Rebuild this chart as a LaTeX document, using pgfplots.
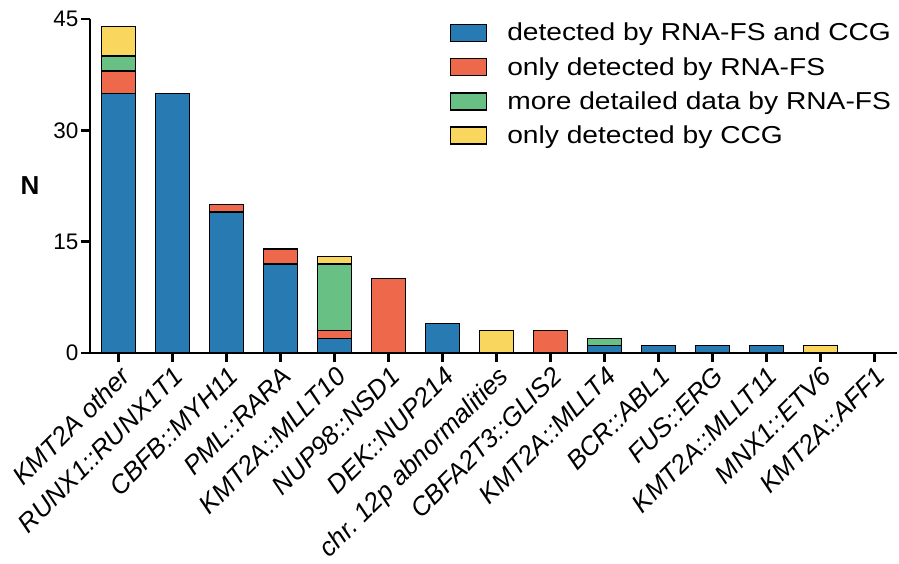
\documentclass[border=0pt]{standalone}
\usepackage{fontspec}
\setmainfont{Liberation Sans}
\newfontfamily\widesans{Liberation Sans}[FakeStretch=1.15]
\usepackage{pgfplots}
\pgfplotsset{compat=1.18}
\definecolor{cblue}{RGB}{40,122,178}
\definecolor{cred}{RGB}{238,104,76}
\definecolor{cgreen}{RGB}{104,192,132}
\definecolor{cyellow}{RGB}{249,214,94}
\begin{document}
\begin{tikzpicture}
\begin{axis}[
  scale only axis,
  width=807pt, height=334pt,
  ybar stacked, bar width=34pt,
  xmin=-0.53, xmax=14.42, ymin=0, ymax=45,
  axis x line=bottom, axis y line=left,
  axis line style={line width=2.4pt, -},
  tick style={line width=2.4pt, black},
  major tick length=9pt,
  tick align=outside,
  ytick={0,15,30,45},
  xtick={0,...,14},
  xticklabels={KMT2A other, RUNX1::RUNX1T1, CBFB::MYH11, PML::RARA, KMT2A::MLLT10, NUP98::NSD1, DEK::NUP214, chr.\ 12p abnormalities, CBFA2T3::GLIS2, KMT2A::MLLT4, BCR::ABL1, FUS::ERG, KMT2A::MLLT11, MNX1::ETV6, KMT2A::AFF1},
  x tick label style={rotate=45, anchor=north east, font=\fontsize{26}{26}\selectfont\itshape, inner sep=2pt},
  y tick label style={font=\fontsize{22.5}{22.5}\selectfont, inner sep=2.5pt},
  /pgf/number format/assume math mode=true,
  ylabel={\textbf{N}},
  every axis y label/.style={at={(axis description cs:0,0.5)}, anchor=center, xshift=-60pt, font=\fontsize{26}{26}\selectfont},
  legend image code/.code={\draw[#1, line width=1.4pt, draw=black] (0pt,-8.5pt) rectangle (36pt,8.5pt);},
  legend cell align=left,
  legend style={draw=none, fill=none, at={(0.442,1.0)}, anchor=north west,
    font=\fontsize{24.5}{24.5}\selectfont\widesans, row sep=11pt,
    /tikz/every odd column/.style={column sep=18pt}},
  every axis plot/.append style={draw=black, line width=1.3pt},
]
\addplot[fill=cblue] coordinates {(0,35) (1,35) (2,19) (3,12) (4,2) (5,0) (6,4) (7,0) (8,0) (9,1) (10,1) (11,1) (12,1) (13,0) (14,0)};
\addplot[fill=cred] coordinates {(0,3) (1,0) (2,1) (3,2) (4,1) (5,10) (6,0) (7,0) (8,3) (9,0) (10,0) (11,0) (12,0) (13,0) (14,0)};
\addplot[fill=cgreen] coordinates {(0,2) (1,0) (2,0) (3,0) (4,9) (5,0) (6,0) (7,0) (8,0) (9,1) (10,0) (11,0) (12,0) (13,0) (14,0)};
\addplot[fill=cyellow] coordinates {(0,4) (1,0) (2,0) (3,0) (4,1) (5,0) (6,0) (7,3) (8,0) (9,0) (10,0) (11,0) (12,0) (13,1) (14,0)};
\legend{detected by RNA-FS and CCG, only detected by RNA-FS, more detailed data by RNA-FS, only detected by CCG}
\coordinate (bl) at (rel axis cs:0,0);
\coordinate (tr) at (rel axis cs:1,1);
\end{axis}
\pgfresetboundingbox
\path[use as bounding box] ([xshift=-90pt,yshift=-211pt]bl) rectangle ([xshift=2pt,yshift=19pt]tr);
\end{tikzpicture}
\end{document}
